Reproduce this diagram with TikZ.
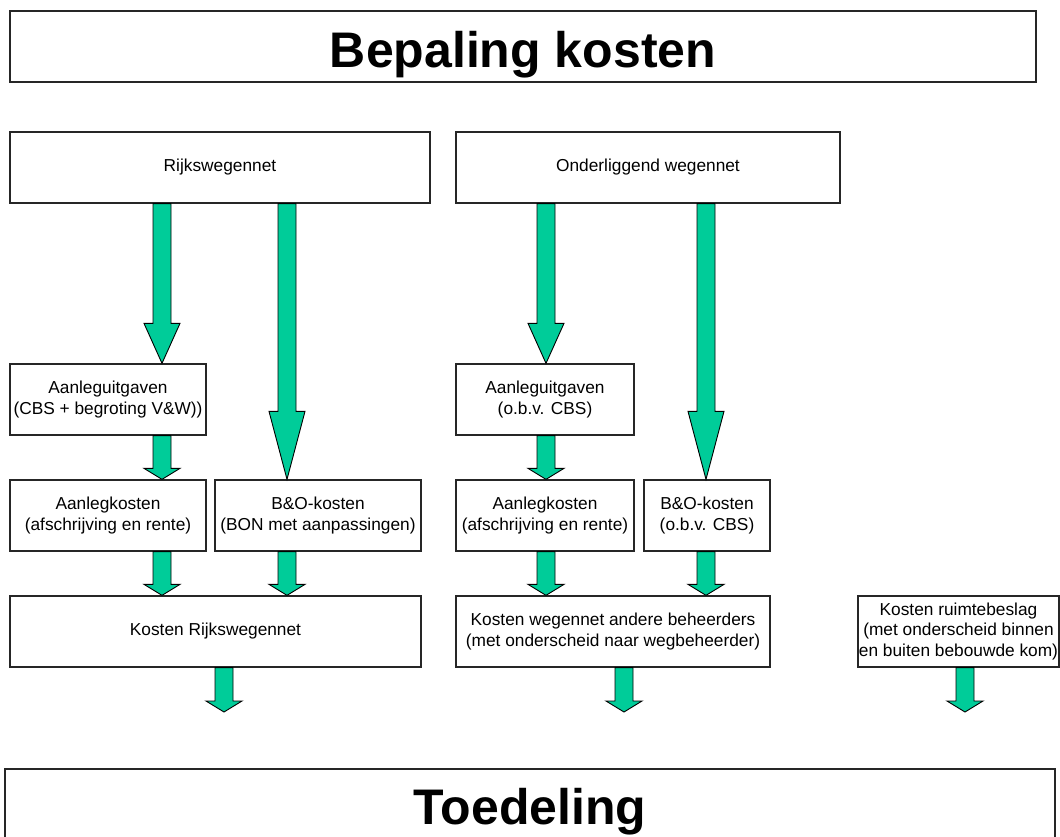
\documentclass[tikz,border=0pt]{standalone}
\usepackage{fontspec}
\setmainfont{Liberation Sans}
\usetikzlibrary{calc}
\definecolor{pijlgroen}{RGB}{0,204,153}

% blokpijl: van, naar, x-as van de pijl, lengte van de kop
\newcommand\blokpijl[4]{%
  \draw[pijl] let \p1=(#1), \p2=(#2) in
    (#3-9,\y1) -- (#3+9,\y1) -- (#3+9,\y2+#4pt) -- (#3+18,\y2+#4pt) -- (#3,\y2)
    -- (#3-18,\y2+#4pt) -- (#3-9,\y2+#4pt) -- cycle;}

\begin{document}
\begin{tikzpicture}[x=1pt,y=-1pt,
    blok/.style={draw=black!85, line width=1.3pt, fill=white, inner sep=0pt,
      align=center, minimum height=71pt, font=\fontsize{17.3}{20.5}\selectfont},
    kop/.style={blok, font=\fontsize{50}{60}\selectfont\bfseries, text depth=0pt},
    pijl/.style={draw=black, line width=0.9pt, fill=pijlgroen, line join=miter}]
  \useasboundingbox (0,0) rectangle (1060,836);

  \node[kop, minimum width=1026pt, text height=41pt] (bepaling) at (523,46.5) {Bepaling kosten};

  \node[blok, minimum width=420pt] (rijk) at (220,167.5) {Rijkswegennet};
  \node[blok, minimum width=384pt] (onder) at (648,167.5) {Onderliggend wegennet};

  \node[blok, minimum width=196pt] (aurijk) at (108,399.5) {Aanleguitgaven\\(CBS + begroting V\&W))};
  \node[blok, minimum width=196pt] (akrijk) at (108,515.5) {Aanlegkosten\\(afschrijving en rente)};
  \node[blok, minimum width=206pt] (borijk) at (318,515.5) {B\&O-kosten\\(BON met aanpassingen)};
  \node[blok, minimum width=411pt] (krijk) at (215.5,631.5) {Kosten Rijkswegennet};

  \node[blok, minimum width=178pt] (auond) at (545,399.5) {Aanleguitgaven\\(o.b.v. CBS)};
  \node[blok, minimum width=178pt] (akond) at (545,515.5) {Aanlegkosten\\(afschrijving en rente)};
  \node[blok, minimum width=126pt] (boond) at (707,515.5) {B\&O-kosten\\(o.b.v. CBS)};
  \node[blok, minimum width=314pt] (kond) at (613,631.5) {Kosten wegennet andere beheerders\\(met onderscheid naar wegbeheerder)};

  \node[blok, minimum width=201pt] (ruimte) at (958.5,631.5) {Kosten ruimtebeslag\\(met onderscheid binnen\\en buiten bebouwde kom)};

  \node[kop, minimum width=1050pt, minimum height=72pt, text height=38pt] (toedeling) at (530,805) {Toedeling};

  \coordinate (eindrijk) at (224,712);
  \coordinate (eindond) at (624,712);
  \coordinate (eindruimte) at (965,712);

  % rijkswegennet
  \blokpijl{rijk.south}{aurijk.north}{162}{40}
  \blokpijl{rijk.south}{borijk.north}{287}{68}
  \blokpijl{aurijk.south}{akrijk.north}{162}{11}
  \blokpijl{akrijk.south}{krijk.north}{162}{11}
  \blokpijl{borijk.south}{krijk.north}{287}{11}
  \blokpijl{krijk.south}{eindrijk}{224}{11}

  % onderliggend wegennet
  \blokpijl{onder.south}{auond.north}{546}{40}
  \blokpijl{onder.south}{boond.north}{706}{68}
  \blokpijl{auond.south}{akond.north}{546}{11}
  \blokpijl{akond.south}{kond.north}{546}{11}
  \blokpijl{boond.south}{kond.north}{706}{11}
  \blokpijl{kond.south}{eindond}{624}{11}

  \blokpijl{ruimte.south}{eindruimte}{965}{11}
\end{tikzpicture}
\end{document}
